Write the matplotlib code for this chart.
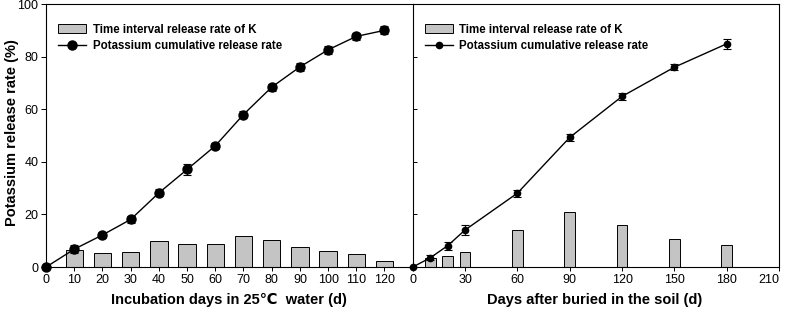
import numpy as np
import matplotlib.pyplot as plt
from matplotlib import font_manager
from matplotlib.patches import Patch
from matplotlib.lines import Line2D

# water incubation (left panel)
days_w = [0, 10, 20, 30, 40, 50, 60, 70, 80, 90, 100, 110, 120]
cum_w = [0, 6.8, 12.2, 18.1, 28.2, 37.1, 46.1, 58.0, 68.4, 76.1, 82.6, 87.7, 90.0]
err_w = [0, 1.5, 1.0, 1.2, 1.3, 2.0, 1.2, 1.2, 1.3, 1.6, 1.4, 1.3, 1.5]
bar_days_w = [10, 20, 30, 40, 50, 60, 70, 80, 90, 100, 110, 120]
bar_w = [6.6, 5.2, 5.8, 9.9, 8.9, 8.9, 11.7, 10.4, 7.6, 6.3, 4.9, 2.3]

# buried in soil (right panel)
days_s = [0, 10, 20, 30, 60, 90, 120, 150, 180]
cum_s = [0, 3.5, 8.1, 14.1, 28.1, 49.3, 64.9, 76.0, 84.9]
err_s = [0, 1.0, 1.5, 1.8, 1.3, 1.2, 1.3, 1.2, 1.8]
bar_days_s = [10, 20, 30, 60, 90, 120, 150, 180]
bar_s = [3.5, 4.3, 5.6, 14.0, 20.8, 15.9, 10.8, 8.5]

names = [f.name for f in font_manager.fontManager.ttflist]
tick_font = 'Liberation Sans Narrow' if 'Liberation Sans Narrow' in names else 'Liberation Sans'
plt.rcParams['font.family'] = ['Liberation Sans', 'DejaVu Sans']

fig = plt.figure(figsize=(7.87, 3.12), dpi=100)
ax1 = fig.add_axes([0.0585, 0.144, 0.4659, 0.843])
ax2 = fig.add_axes([0.5244, 0.144, 0.4656, 0.843])

bar_color = '#c4c4c4'

ax1.bar(bar_days_w, bar_w, width=6.2, color=bar_color, edgecolor='black', linewidth=0.7, zorder=2)
ax1.errorbar(days_w, cum_w, yerr=err_w, color='black', marker='o', ms=6.5, lw=1.0,
             capsize=3, elinewidth=0.8, capthick=0.8, clip_on=False, zorder=3)
ax1.set_xlim(0, 130)
ax1.set_ylim(0, 100)
ax1.set_xticks(range(0, 121, 10))
ax1.set_yticks(range(0, 101, 20))
ax1.spines['right'].set_visible(False)

ax2.bar(bar_days_s, bar_s, width=6.2, color=bar_color, edgecolor='black', linewidth=0.7, zorder=2)
ax2.errorbar(days_s, cum_s, yerr=err_s, color='black', marker='o', ms=4.5, lw=1.0,
             capsize=3, elinewidth=0.8, capthick=0.8, clip_on=False, zorder=3)
ax2.set_xlim(0, 210)
ax2.set_ylim(0, 100)
ax2.set_xticks(range(0, 211, 30))
ax2.set_yticks(range(0, 101, 20))
ax2.tick_params(axis='y', direction='in', labelleft=False, length=3)

lab_font = {'fontsize': 10.5, 'fontweight': 'bold'}
fig.text(229 / 787, 1 - 300 / 312, 'Incubation days in 25\u2103  water (d)', ha='center', va='center', **lab_font)
fig.text(595 / 787, 1 - 300 / 312, 'Days after buried in the soil (d)', ha='center', va='center', **lab_font)
fig.text(12 / 787, 1 - 133 / 312, 'Potassium release rate (%)', ha='center', va='center',
         rotation=90, **lab_font)

for ax, ms in ((ax1, 6.5), (ax2, 4.5)):
    ax.tick_params(axis='x', length=3, width=0.7, pad=2)
    ax.tick_params(axis='y', width=0.7, pad=2)
    for lab in ax.get_xticklabels() + ax.get_yticklabels():
        lab.set_fontfamily(tick_font)
        lab.set_fontsize(9)
    for sp in ax.spines.values():
        sp.set_linewidth(0.8)
    handles = [Patch(facecolor=bar_color, edgecolor='black', linewidth=0.7),
               Line2D([], [], color='black', lw=1.0, marker='o', ms=ms)]
    ax.legend(handles, ['Time interval release rate of K', 'Potassium cumulative release rate'],
              loc='upper left', frameon=False, bbox_to_anchor=(0.005, 0.965),
              prop={'weight': 'bold', 'size': 8.3}, handlelength=2.4,
              handleheight=0.8, handletextpad=0.6, labelspacing=0.4)

# last tick label sits on the figure edge, pull it in a little
ax2.get_xticklabels()[-1].set_horizontalalignment('right')
ax2.get_xticklabels()[-1].set_x(210)

fig.savefig('out.png', dpi=100)
